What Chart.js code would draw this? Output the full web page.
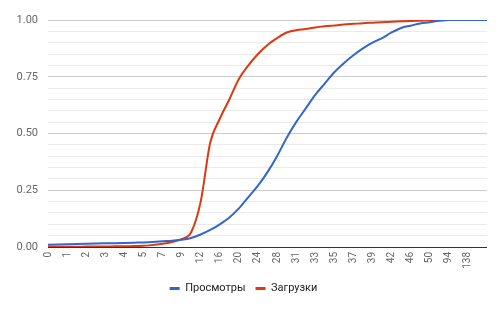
<!DOCTYPE html>
<html>
<head>
<meta charset="utf-8">
<script src="https://cdn.jsdelivr.net/npm/chart.js@4/dist/chart.umd.min.js"></script>
<style>
  html, body { margin: 0; padding: 0; background: #fff; }
  #wrap { width: 504px; height: 310px; }
</style>
</head>
<body>
<div id="wrap"><canvas id="cdf"></canvas></div>
<script>
// categories on the x axis (only every second one is labelled, as in the source)
const categories = ['0','0','1','1','2','2','3','3','4','4','5','6','7','8','9','10',
  '12','14','16','18','20','22','24','26','28','30','31','32','33','34','35','36',
  '37','38','39','40','42','44','46','48','50','70','94','116','138','160','182'];

// cumulative share, views
const views = [0.010,0.011,0.012,0.013,0.014,0.015,0.016,0.017,0.018,0.019,0.020,0.022,
  0.025,0.028,0.032,0.040,0.055,0.075,0.100,0.130,0.170,0.220,0.270,0.330,0.400,0.480,
  0.550,0.610,0.670,0.720,0.770,0.810,0.845,0.875,0.900,0.920,0.945,0.965,0.975,0.985,
  0.990,0.997,1.0,1.0,1.0,1.0,1.0];

// cumulative share, downloads
const downloads = [0.001,0.001,0.001,0.001,0.002,0.002,0.002,0.003,0.003,0.004,0.005,0.009,
  0.014,0.022,0.035,0.065,0.200,0.460,0.565,0.650,0.740,0.800,0.850,0.890,0.920,0.945,
  0.955,0.960,0.967,0.972,0.976,0.980,0.983,0.986,0.988,0.990,0.992,0.994,0.996,0.997,
  0.998,0.999,1.0,1.0,1.0,1.0,1.0];

const yTicks = [0, 0.25, 0.5, 0.75, 1];

const BLUE = '#3366cc';
const RED = '#dc3912';
const FONT = 'Roboto, Arial, sans-serif';

new Chart(document.getElementById('cdf'), {
    type: 'line',
    data: {
        labels: categories,
        datasets: [
            {
                label: 'Просмотры',
                data: views,
                borderColor: BLUE,
                backgroundColor: BLUE,
                borderWidth: 2,
                pointRadius: 0,
                cubicInterpolationMode: 'monotone',
                fill: false
            },
            {
                label: 'Загрузки',
                data: downloads,
                borderColor: RED,
                backgroundColor: RED,
                borderWidth: 2,
                pointRadius: 0,
                cubicInterpolationMode: 'monotone',
                fill: false
            }
        ]
    },
    options: {
        responsive: true,
        maintainAspectRatio: false,
        animation: false,
        layout: { padding: { left: 0, right: 17, top: 20, bottom: 6 } },
        plugins: {
            tooltip: { enabled: false },
            legend: {
                position: 'bottom',
                labels: {
                    boxWidth: 10,
                    boxHeight: 3,
                    padding: 10,
                    color: '#222',
                    font: { family: FONT, size: 11 },
                    generateLabels: (chart) =>
                        Chart.defaults.plugins.legend.labels.generateLabels(chart)
                            .map(l => Object.assign(l, { lineWidth: 0 }))
                }
            }
        },
        scales: {
            x: {
                grid: { display: false, drawTicks: false },
                border: { display: false },
                afterFit: (scale) => { scale.height = 26; },
                ticks: {
                    autoSkip: false,
                    minRotation: 90,
                    maxRotation: 90,
                    padding: 5,
                    color: '#666',
                    font: { family: FONT, size: 10 },
                    callback: function(value, index) {
                        return (index % 2 === 0 && index <= 44) ? this.getLabelForValue(value) : '';
                    }
                }
            },
            y: {
                min: 0,
                max: 1,
                border: { display: false },
                grid: {
                    drawTicks: false,
                    color: (ctx) => {
                        const v = Math.round(ctx.tick.value * 100) / 100;
                        if (v === 0) return '#333';
                        return yTicks.includes(v) ? '#cccccc' : '#ebebeb';
                    }
                },
                afterFit: (scale) => { scale.width = 48; },
                ticks: {
                    stepSize: 0.05,
                    autoSkip: false,
                    padding: 10,
                    color: '#666',
                    font: { family: FONT, size: 11 },
                    callback: (value) => {
                        const v = Math.round(value * 100) / 100;
                        return yTicks.includes(v) ? v.toFixed(2) : '';
                    }
                }
            }
        }
    }
});
</script>
</body>
</html>
